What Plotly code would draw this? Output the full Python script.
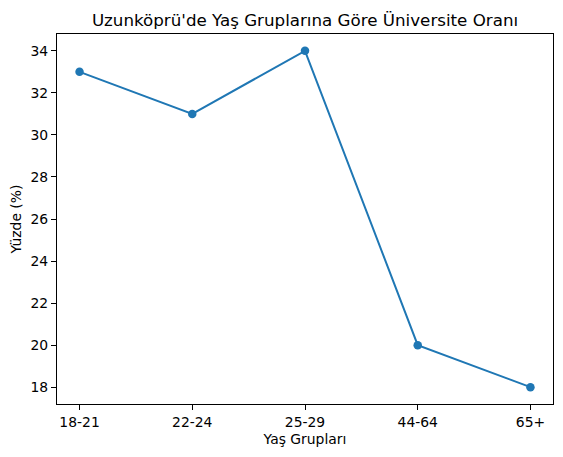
import plotly.graph_objects as go

categories = ["18-21", "22-24", "25-29", "44-64", "65+"]
values = [33, 31, 34, 20, 18]
y_ticks = [18, 20, 22, 24, 26, 28, 30, 32, 34]

x_idx = list(range(len(categories)))

fig = go.Figure(go.Scatter(
    x=x_idx, y=values, mode="lines+markers",
    line=dict(color="#1f77b4", width=2),
    marker=dict(color="#1f77b4", size=8.5),
))

FS = 13.9
axis_common = dict(
    showgrid=False, zeroline=False, showline=True, linecolor="black", linewidth=1,
    mirror=True, ticks="outside", ticklen=5, tickwidth=1, tickcolor="black",
    automargin=False,
    tickfont=dict(family="DejaVu Sans", size=FS, color="black"),
)

# page body has an 8px margin, so the figure is offset by 8px
W, H = 555, 449
L, R, T, B = 49, 10, 26, 53

fig.update_layout(
    width=W, height=H,
    margin=dict(l=L, r=R, t=T, b=B, autoexpand=False),
    paper_bgcolor="white", plot_bgcolor="white",
    showlegend=False,
    font=dict(family="DejaVu Sans", color="black"),
    title=dict(text="Uzunköprü'de Yaş Gruplarına Göre Üniversite Oranı",
               x=(L + W - R) / 2 / W, xanchor="center", y=1 - 12 / H, yanchor="middle",
               font=dict(family="DejaVu Sans", size=16.7, color="black")),
    xaxis=dict(axis_common, range=[-0.2, 4.2], tickvals=x_idx, ticktext=categories,
               title=dict(text="Yaş Grupları", font=dict(family="DejaVu Sans", size=FS), standoff=5)),
    yaxis=dict(axis_common, range=[17.2, 34.8], tickvals=y_ticks,
               title=dict(text="Yüzde (%)", font=dict(family="DejaVu Sans", size=FS), standoff=8)),
)

fig.write_html("out.html")
